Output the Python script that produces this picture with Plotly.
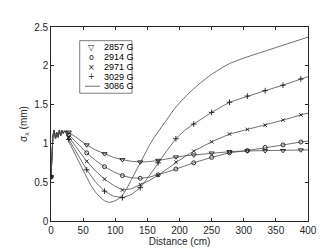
import plotly.graph_objects as go

# ---- data ----
x_start = [0, 1, 2, 3, 5, 7, 9, 11, 13, 15, 17, 19, 21]
y_start = [0.57, 0.80, 1.00, 1.10, 1.17, 1.06, 1.14, 1.08, 1.17, 1.10, 1.17, 1.13, 1.16]

x_mid = [24, 27.8, 41.7, 55.6, 69.4, 83.3, 97.2, 111.1, 125, 138.9, 152.8, 166.7,
         180.6, 194.4, 208.3, 222.2, 250, 277.8, 305.6, 333.3, 361.1, 388.9, 400]
y_2857 = [1.16, 1.145, 1.06, 0.98, 0.915, 0.866, 0.82, 0.79, 0.77, 0.76, 0.765, 0.78,
          0.80, 0.825, 0.84, 0.85, 0.875, 0.893, 0.903, 0.905, 0.907, 0.915, 0.916]
y_2914 = [1.15, 1.11, 0.99, 0.878, 0.78, 0.70, 0.635, 0.585, 0.557, 0.55, 0.565, 0.595,
          0.63, 0.67, 0.71, 0.75, 0.82, 0.88, 0.907, 0.948, 0.98, 1.018, 1.03]
y_2971 = [1.14, 1.08, 0.92, 0.77, 0.645, 0.54, 0.46, 0.40, 0.415, 0.47, 0.52, 0.59,
          0.67, 0.76, 0.83, 0.90, 1.02, 1.12, 1.18, 1.235, 1.30, 1.367, 1.39]
y_3029 = [1.13, 1.05, 0.85, 0.66, 0.50, 0.385, 0.32, 0.30, 0.34, 0.43, 0.58, 0.75,
          0.91, 1.06, 1.17, 1.25, 1.40, 1.53, 1.61, 1.68, 1.75, 1.83, 1.86]

x_3086 = [24, 27.8, 34, 41.7, 48, 55.6, 62, 69.4, 76, 83.3, 90, 97.2, 104, 111.1, 118,
          125, 132, 138.9, 145, 152.8, 160, 166.7, 173, 180, 192.5, 203, 220, 234, 250,
          265, 278, 300, 325, 350, 375, 400]
y_3086 = [1.12, 1.02, 0.92, 0.79, 0.68, 0.56, 0.46, 0.37, 0.31, 0.26, 0.24, 0.25, 0.28,
          0.33, 0.42, 0.53, 0.64, 0.76, 0.86, 0.97, 1.07, 1.15, 1.23, 1.31, 1.45, 1.55,
          1.69, 1.79, 1.89, 1.97, 2.03, 2.10, 2.17, 2.24, 2.30, 2.37]

x_marker = [0, 27.8, 55.6, 83.3, 111.1, 138.9, 166.7, 194.4, 222.2, 250, 277.8,
            305.6, 333.3, 361.1, 388.9]
m_2857 = [0.57, 1.145, 0.98, 0.866, 0.79, 0.76, 0.78, 0.825, 0.85, 0.875, 0.893,
          0.903, 0.905, 0.907, 0.915]
m_2914 = [0.57, 1.11, 0.878, 0.70, 0.585, 0.55, 0.595, 0.67, 0.75, 0.82, 0.88,
          0.907, 0.948, 0.98, 1.018]
m_2971 = [0.57, 1.08, 0.77, 0.54, 0.40, 0.47, 0.59, 0.76, 0.90, 1.02, 1.12,
          1.18, 1.235, 1.30, 1.367]
m_3029 = [0.57, 1.05, 0.66, 0.385, 0.30, 0.43, 0.75, 1.06, 1.25, 1.40, 1.53,
          1.61, 1.68, 1.75, 1.83]

legend_labels = ["2857 G", "2914 G", "2971 G", "3029 G", "3086 G"]
legend_glyphs = ["▽", "o", "×", "+", ""]

x_ticks = [0, 50, 100, 150, 200, 250, 300, 350, 400]
y_ticks = [0, 0.5, 1, 1.5, 2, 2.5]
y_ticktext = ["0", "0.5", "1", "1.5", "2", "2.5"]

# ---- figure ----
LINE_C = "#4d4d4d"
MK_C = "#1a1a1a"
FONT = "Liberation Sans, Arial, sans-serif"

fig = go.Figure()

for ys in (y_2857, y_2914, y_2971, y_3029):
    fig.add_trace(go.Scatter(x=x_start + x_mid, y=y_start + ys, mode="lines",
                             line=dict(color=LINE_C, width=0.8), showlegend=False,
                             hoverinfo="skip"))
fig.add_trace(go.Scatter(x=x_start + x_3086, y=y_start + y_3086, mode="lines",
                         line=dict(color=LINE_C, width=0.8), showlegend=False))

symbols = ["triangle-down-open", "circle-open", "x-thin-open", "cross-thin-open"]
sizes = [4.5, 4, 3.5, 4]
for ms, sym, sz in zip((m_2857, m_2914, m_2971, m_3029), symbols, sizes):
    fig.add_trace(go.Scatter(x=x_marker, y=ms, mode="markers",
                             marker=dict(symbol=sym, size=sz, color=MK_C,
                                         line=dict(color=MK_C, width=0.9)),
                             showlegend=False))

# ---- custom legend box (MATLAB-like compact legend) ----
row_y = [0.8966, 0.8438, 0.7916, 0.7424, 0.6946]
fig.add_shape(type="rect", xref="paper", yref="paper", x0=0.1117, x1=0.3152,
              y0=0.6586, y1=0.9296, line=dict(color="#262626", width=0.6),
              fillcolor="white", layer="above")
for lab, gl, yy in zip(legend_labels, legend_glyphs, row_y):
    fig.add_annotation(xref="paper", yref="paper", x=0.1996, y=yy, text=lab,
                       showarrow=False, xanchor="left", yanchor="middle",
                       font=dict(family=FONT, size=9, color="#000000"))
    if gl:
        fig.add_annotation(xref="paper", yref="paper", x=0.1568, y=yy, text=gl,
                           showarrow=False, xanchor="center", yanchor="middle",
                           font=dict(family="DejaVu Sans", size=8, color=MK_C))
fig.add_shape(type="line", xref="paper", yref="paper", x0=0.1323, x1=0.1907,
              y0=row_y[4], y1=row_y[4], line=dict(color=LINE_C, width=0.8),
              layer="above")

axis_common = dict(showgrid=False, zeroline=False, showline=True, linecolor="#262626",
                   linewidth=0.6, ticks="inside", ticklen=3, tickcolor="#262626",
                   tickwidth=0.6, mirror="ticks",
                   tickfont=dict(family=FONT, size=10, color="#262626"))

fig.update_layout(
    width=332, height=249,
    margin=dict(l=43, r=32, t=19, b=27),
    paper_bgcolor="white", plot_bgcolor="white",
    font=dict(family=FONT, size=10, color="#262626"),
    showlegend=False,
    xaxis=dict(range=[0, 400], tickvals=x_ticks,
               title=dict(text="Distance (cm)", standoff=2,
                          font=dict(family=FONT, size=10, color="#262626")),
               **axis_common),
    yaxis=dict(range=[0, 2.5], tickvals=y_ticks, ticktext=y_ticktext,
               title=dict(text="σ<sub>x</sub> (mm)", standoff=4,
                          font=dict(family=FONT, size=10, color="#262626")),
               **axis_common),
)

fig.write_html("out.html")
